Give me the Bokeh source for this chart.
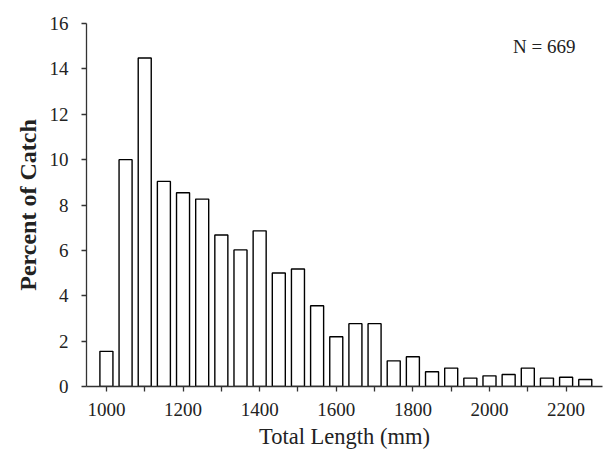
from bokeh.plotting import figure
from bokeh.models import Range1d, FixedTicker, Label
from bokeh.embed import file_html
from bokeh.resources import INLINE

# Length class (mm) midpoints
length_mm = [1000, 1050, 1100, 1150, 1200, 1250, 1300, 1350, 1400, 1450, 1500, 1550, 1600,
             1650, 1700, 1750, 1800, 1850, 1900, 1950, 2000, 2050, 2100, 2150, 2200, 2250]
percent_catch = [1.55, 10.0, 14.48, 9.04, 8.54, 8.26, 6.68, 6.02, 6.86, 5.0, 5.18, 3.56, 2.19,
                 2.77, 2.77, 1.13, 1.31, 0.65, 0.81, 0.37, 0.47, 0.53, 0.81, 0.37, 0.41, 0.31]
x_major_ticks = [1000, 1200, 1400, 1600, 1800, 2000, 2200]
x_minor_ticks = [1100, 1300, 1500, 1700, 1900, 2100]
y_ticks = [0, 2, 4, 6, 8, 10, 12, 14, 16]
sample_label = "N = 669"

FONT = "Liberation Serif"
TXT = "#222222"

p = figure(width=607, height=460, output_backend="svg", toolbar_location=None,
           x_range=Range1d(948, 2295), y_range=Range1d(0, 16),
           min_border_left=86, min_border_top=23, min_border_right=5, min_border_bottom=74)

p.vbar(x=length_mm, top=percent_catch, width=34, bottom=0,
       fill_color="white", line_color="black", line_width=1.4)

p.xgrid.visible = False
p.ygrid.visible = False
p.outline_line_color = None
p.background_fill_color = "white"

p.xaxis.ticker = FixedTicker(ticks=x_major_ticks, minor_ticks=x_minor_ticks)
p.yaxis.ticker = FixedTicker(ticks=y_ticks, minor_ticks=[])

for ax in (p.xaxis[0], p.yaxis[0]):
    ax.axis_line_color = "#333333"
    ax.axis_line_width = 1.3
    ax.major_tick_line_color = "#333333"
    ax.major_tick_line_width = 1.3
    ax.minor_tick_line_color = "#333333"
    ax.minor_tick_line_width = 1.3
    ax.major_tick_in = 0
    ax.major_tick_out = 5
    ax.minor_tick_in = 0
    ax.minor_tick_out = 5
    ax.major_label_text_font = FONT
    ax.major_label_text_font_size = "19px"
    ax.major_label_text_color = TXT
    ax.axis_label_text_font = FONT
    ax.axis_label_text_color = TXT
    ax.axis_label_text_font_style = "normal"

p.xaxis.axis_label = "Total Length (mm)"
p.yaxis.axis_label = "Percent of Catch"
p.xaxis.axis_label_text_font_size = "22.5px"
p.yaxis.axis_label_text_font_size = "24px"
p.yaxis.axis_label_text_font_style = "bold"
p.xaxis.major_label_standoff = 11
p.yaxis.major_label_standoff = 13
p.xaxis.axis_label_standoff = 5
p.yaxis.axis_label_standoff = 6

p.add_layout(Label(x=2143, y=14.98, text=sample_label, text_font=FONT, text_font_size="19px",
                   text_color=TXT, text_align="center", text_baseline="middle"))

open("out.html", "w").write(file_html(p, INLINE))
